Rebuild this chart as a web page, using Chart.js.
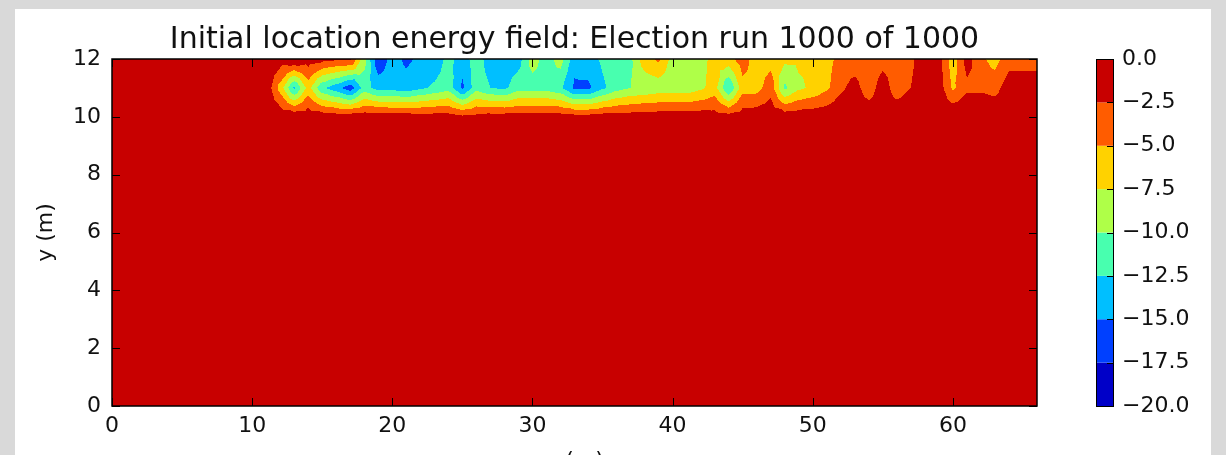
<!DOCTYPE html>
<html><head><meta charset="utf-8">
<script src="https://cdn.jsdelivr.net/npm/chart.js@4.4.0/dist/chart.umd.min.js"></script>
<style>
html,body{margin:0;padding:0;background:#d9d9d9;overflow:hidden;width:1226px;height:455px;}
#c{position:absolute;left:0;top:0;}
</style></head><body>
<canvas id="c" width="1226" height="485"></canvas>
<script>
// ---------- data ----------
const chartTitle = 'Initial location energy field: Election run 1000 of 1000';
const xGrid = [0,1,2,3,4,5,6,7,8,9,10,11,12,13,14,15,16,17,18,19,20,21,22,23,24,25,26,27,28,29,30,31,32,33,34,35,36,37,38,39,40,41,42,43,44,45,46,47,48,49,50,51,52,53,54,55,56,57,58,59,60,61,62,63,64,65,66];
const yGrid = [0,1,2,3,4,5,6,7,8,9,10,11,12];
const xTicks = [0,10,20,30,40,50,60];
const yTicks = [0,2,4,6,8,10,12];
const levels = [-20,-17.5,-15,-12.5,-10,-7.5,-5,-2.5,0];
const bandColors = ['#0000c8','#0040ff','#00bfff','#48ffaf','#afff48','#ffd200','#ff5c00','#c80000'];

// energy rows (x = 0..66)
const energyLow = [0,0,0,0,0,0,0,0,0,0, 0,0,0,0,0,0,0,0,0,0, 0,0,0,0,0,0,0,0,0,0, 0,0,0,0,0,0,0,0,0,0, 0,0,0,0,0,0,0,0,0,0, 0,0,0,0,0,0,0,0,0,0, 0,0,0,0,0,0,0];
const energyY10 = [0,0,0,0,0,0,0,0,0,0, 0,0,-0.5,-0.5,-0.6,-0.8,-1,-1,-0.8,-0.8, -1,-1,-1.2,-1.2,-1.2,-2,-1.6,-1.2,-1.2,-1.2, -1.2,-1.2,-1.2,-1.5,-1.5,-1.2,-1.2,-1.2,-1,-1, -1,-1,-1,-1.2,-1.5,-1,-0.8,-0.5,-0.8,-0.8, -0.8,-0.6,-0.5,-0.3,-0.5,-0.3,-0.3,0,0,0, 0,0,0,0,0,0,0];
const energyY11 = [0,0,0,0,0,0,0,0,0,0, 0,-0.5,-6,-13,-6.5,-12,-14,-16.5,-11.5,-13.5, -13.5,-14,-13,-12,-11,-15.5,-11,-12.5,-13,-11, -11,-11,-12,-15.5,-15.5,-13,-11,-10,-9.5,-9, -9,-9,-8,-6.5,-12.6,-6,-6,-3.5,-10.5,-8, -7,-5.5,-3,-1.5,-4,-1,-4,-2.5,-1,-1, -5.5,-3,-3,-3.5,-1,-1,-1];
const energyY12 = [0,0,0,0,0,0,0,0,0,0, 0,0,-1,0,-1,-1.5,-2,-2,-9,-17, -14,-15.5,-14.5,-14.5,-11.5,-14,-11,-14,-14,-13.5, -9,-11,-9,-14,-13.5,-12,-11,-10.5,-6,-4.5, -8.5,-9,-8.5,-6.5,-6,-3.5,-6.5,-6,-7,-7, -7,-6,-4,-4,-4.5,-3.5,-4,-3,-1,-1.5, -6.5,-1.5,-4.5,-6,-3.5,-3.5,-3.5];

// grid table built from the rows above (index = y)
const field = yGrid.map(y => y <= 9 ? energyLow : (y === 10 ? energyY10 : (y === 11 ? energyY11 : energyY12)));

const FONT = 'DejaVu Sans';
const TXT = '#111111';
const fmt = v => v.toFixed(1).replace('-', '\u2212');

function bandIndex(v) {
  let k = Math.floor((v - levels[0]) / (levels[1] - levels[0]));
  return Math.max(0, Math.min(bandColors.length - 1, k));
}
function hexToRgb(h) { return [parseInt(h.substr(1,2),16), parseInt(h.substr(3,2),16), parseInt(h.substr(5,2),16)]; }
const bandRgb = bandColors.map(hexToRgb);

function sample(x, y) {
  const nx = xGrid.length, ny = yGrid.length;
  let i = Math.floor(x - xGrid[0]); i = Math.max(0, Math.min(nx - 2, i));
  let j = Math.floor(y - yGrid[0]); j = Math.max(0, Math.min(ny - 2, j));
  const u = Math.max(0, Math.min(1, (x - xGrid[i]) / (xGrid[i+1] - xGrid[i])));
  const v = Math.max(0, Math.min(1, (y - yGrid[j]) / (yGrid[j+1] - yGrid[j])));
  const a = field[j][i], b = field[j][i+1], c = field[j+1][i+1], d = field[j+1][i];
  const m = (a + b + c + d) / 4;
  if (v <= u && v <= 1 - u) return a*(1-u-v) + b*(u-v) + m*(2*v);
  if (u >= v && u >= 1 - v) return b*(u-v) + c*(u+v-1) + m*(2-2*u);
  if (v >= u && v >= 1 - u) return d*(v-u) + c*(u+v-1) + m*(2-2*v);
  return a*(1-u-v) + d*(v-u) + m*(2*u);
}

const bgPlugin = {
  id: 'bg',
  beforeDraw(chart) {
    const ctx = chart.ctx;
    ctx.save();
    ctx.fillStyle = '#d9d9d9';
    ctx.fillRect(0, 0, chart.width, chart.height);
    ctx.fillStyle = '#ffffff';
    ctx.fillRect(15, 9, chart.width - 30, chart.height - 9);
    ctx.restore();
  }
};

const contourPlugin = {
  id: 'contour',
  beforeDatasetsDraw(chart) {
    const ctx = chart.ctx;
    const xs = chart.scales.x, ys = chart.scales.y;
    const ca = chart.chartArea;
    const L = Math.round(ca.left), T = Math.round(ca.top);
    const W = Math.round(ca.right) - L, H = Math.round(ca.bottom) - T;
    const img = ctx.createImageData(W, H);
    const xv = [], yv = [];
    for (let p = 0; p < W; p++) xv.push(xs.getValueForPixel(L + p + 0.5));
    for (let q = 0; q < H; q++) yv.push(ys.getValueForPixel(T + q + 0.5));
    for (let q = 0; q < H; q++) {
      for (let p = 0; p < W; p++) {
        const col = bandRgb[bandIndex(sample(xv[p], yv[q]))];
        const o = (q * W + p) * 4;
        img.data[o] = col[0]; img.data[o+1] = col[1]; img.data[o+2] = col[2]; img.data[o+3] = 255;
      }
    }
    ctx.putImageData(img, L, T);
  },
  afterDatasetsDraw(chart) {
    const ctx = chart.ctx;
    const xs = chart.scales.x, ys = chart.scales.y, cb = chart.scales.cb;
    const ca = chart.chartArea;
    ctx.save();
    // colour bar, drawn on the cb scale
    const bx = cb.left + 59, bw = 17;
    for (let k = 0; k < bandColors.length; k++) {
      const y1 = cb.getPixelForValue(levels[k]), y2 = cb.getPixelForValue(levels[k+1]);
      ctx.fillStyle = bandColors[k];
      ctx.fillRect(bx, y2, bw, y1 - y2);
    }
    ctx.strokeStyle = '#000';
    ctx.lineWidth = 1;
    ctx.strokeRect(Math.round(bx) + 0.5, Math.round(cb.top) + 0.5, bw, Math.round(cb.bottom - cb.top));
    ctx.beginPath();
    levels.forEach(l => {
      const y = Math.round(cb.getPixelForValue(l)) + 0.5;
      ctx.moveTo(bx + bw, y); ctx.lineTo(bx + bw - 6, y);
    });
    ctx.stroke();
    // axes frame and inward ticks
    ctx.lineWidth = 1.5;
    ctx.strokeRect(ca.left, ca.top, ca.right - ca.left, ca.bottom - ca.top);
    ctx.lineWidth = 1;
    ctx.beginPath();
    xTicks.forEach(t => {
      const x = Math.round(xs.getPixelForValue(t)) + 0.5;
      ctx.moveTo(x, ca.bottom); ctx.lineTo(x, ca.bottom - 8);
      ctx.moveTo(x, ca.top); ctx.lineTo(x, ca.top + 8);
    });
    yTicks.forEach(t => {
      const y = Math.round(ys.getPixelForValue(t)) + 0.5;
      ctx.moveTo(ca.left, y); ctx.lineTo(ca.left + 8, y);
      ctx.moveTo(ca.right, y); ctx.lineTo(ca.right - 8, y);
    });
    ctx.stroke();
    ctx.restore();
  }
};

const tickFont = { family: FONT, size: 22 };

new Chart(document.getElementById('c'), {
  type: 'scatter',
  data: { datasets: [{ label: 'energy', data: [], pointRadius: 0 }] },
  options: {
    responsive: false,
    animation: false,
    devicePixelRatio: 1,
    layout: { padding: { left: 15, right: 15, top: 9, bottom: 0 } },
    plugins: { legend: { display: false }, tooltip: { enabled: false }, title: { display: false } },
    scales: {
      x: {
        type: 'linear', position: 'bottom', min: 0, max: 66,
        grid: { display: false, drawTicks: false }, border: { display: false },
        ticks: { stepSize: 10, includeBounds: false, font: tickFont, color: TXT, padding: 7, maxRotation: 0, autoSkip: false },
        title: { display: true, text: 'x (m)', font: tickFont, color: TXT, padding: { top: 0, bottom: 11 } },
        afterFit(s) { s.height = 79; }
      },
      top: {
        type: 'linear', position: 'top', min: 0, max: 66,
        grid: { display: false, drawTicks: false }, border: { display: false },
        ticks: { display: false },
        title: { display: true, text: chartTitle, font: { family: FONT, size: 30 }, color: TXT, padding: { top: 13, bottom: 0 } },
        afterFit(s) { s.height = 50; }
      },
      y: {
        type: 'linear', position: 'left', min: 0, max: 12,
        grid: { display: false, drawTicks: false }, border: { display: false },
        ticks: { stepSize: 2, includeBounds: false, font: tickFont, color: TXT, padding: 11, autoSkip: false },
        title: { display: true, text: 'y (m)', font: tickFont, color: TXT, padding: { top: 18, bottom: 0 } },
        afterFit(s) { s.width = 97; s.paddingTop = 0; s.paddingBottom = 0; }
      },
      cb: {
        type: 'linear', position: 'right', min: -20, max: 0,
        grid: { display: false, drawTicks: false }, border: { display: false },
        ticks: { stepSize: 2.5, includeBounds: false, font: tickFont, color: TXT, padding: 85, autoSkip: false, callback: v => fmt(v) },
        afterFit(s) { s.width = 174; s.paddingTop = 0; s.paddingBottom = 0; }
      }
    }
  },
  plugins: [bgPlugin, contourPlugin]
});
</script></body></html>
